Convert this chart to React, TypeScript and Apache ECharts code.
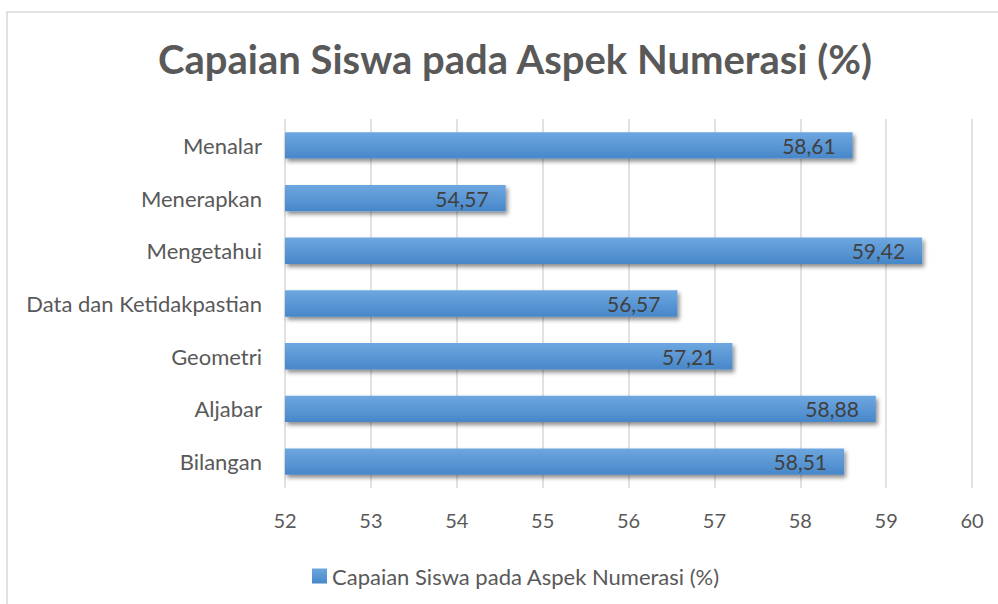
import React, { useEffect, useRef } from "react";
import * as echarts from "echarts";

const title = "Capaian Siswa pada Aspek Numerasi (%)";
const seriesName = "Capaian Siswa pada Aspek Numerasi (%)";
const categories = [
  "Bilangan",
  "Aljabar",
  "Geometri",
  "Data dan Ketidakpastian",
  "Mengetahui",
  "Menerapkan",
  "Menalar",
];
const values = [58.51, 58.88, 57.21, 56.57, 59.42, 54.57, 58.61];
const xMin = 52;
const xMax = 60;

const FONT = "Lato, 'Open Sans', sans-serif";

export default function App() {
  const ref = useRef<HTMLDivElement>(null);
  useEffect(() => {
    document.body.style.margin = "0";
    if (!ref.current) return;
    const chart = echarts.init(ref.current, null, { renderer: "svg" });
    chart.setOption({
      animation: false,
      backgroundColor: "#ffffff",
      textStyle: { fontFamily: FONT },
      title: {
        text: title,
        left: 510,
        top: 34,
        textAlign: "center",
        textStyle: {
          fontFamily: FONT,
          fontSize: 40,
          fontWeight: "bold",
          color: "#595959",
        },
      },
      graphic: [
        {
          type: "rect",
          shape: { x: 7, y: 12, width: 1010, height: 610 },
          style: { fill: "none", stroke: "#d9d9d9", lineWidth: 1.5 },
          silent: true,
        },
      ],
      legend: {
        data: [seriesName],
        left: 307,
        top: 560,
        icon: "rect",
        itemWidth: 15,
        itemHeight: 15,
        itemGap: 6,
        textStyle: { fontFamily: FONT, fontSize: 22, color: "#595959", padding: [0, 0, 0, 0] },
      },
      grid: { left: 285, right: 26, top: 119, bottom: 116, containLabel: false },
      xAxis: {
        type: "value",
        min: xMin,
        max: xMax,
        interval: 1,
        axisLine: { show: false },
        axisTick: { show: false },
        splitLine: { show: true, lineStyle: { color: "#d9d9d9", width: 1.5 } },
        axisLabel: { fontFamily: FONT, fontSize: 20, color: "#595959", margin: 22 },
      },
      yAxis: {
        type: "category",
        data: categories,
        axisLine: { show: false },
        axisTick: { show: false },
        axisLabel: { fontFamily: FONT, fontSize: 22, color: "#595959", margin: 23 },
      },
      series: [
        {
          name: seriesName,
          type: "bar",
          data: values,
          barCategoryGap: "50%",
          itemStyle: {
            color: new echarts.graphic.LinearGradient(0, 0, 0, 1, [
              { offset: 0, color: "#6ea7e0" },
              { offset: 1, color: "#4787c9" },
            ]),
            shadowColor: "rgba(0,0,0,0.45)",
            shadowBlur: 4,
            shadowOffsetX: 2,
            shadowOffsetY: 3,
          },
          label: {
            show: true,
            position: "insideRight",
            distance: 17,
            fontFamily: FONT,
            fontSize: 21,
            color: "#404040",
            formatter: (p: any) => String(p.value.toFixed(2)).replace(".", ","),
          },
        },
      ],
    });
    return () => chart.dispose();
  }, []);
  return <div ref={ref} style={{ width: 998, height: 604 }} />;
}
